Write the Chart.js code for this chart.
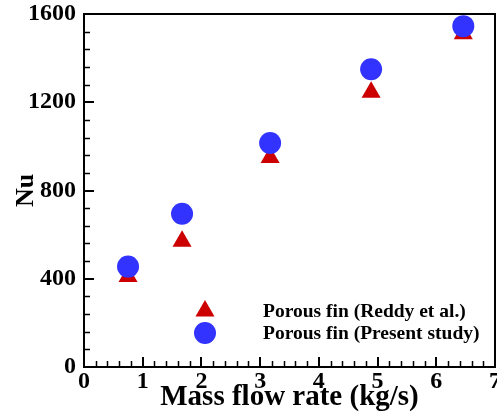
<!DOCTYPE html>
<html><head><meta charset="utf-8">
<script src="https://cdn.jsdelivr.net/npm/chart.js@4/dist/chart.umd.min.js"></script>
<style>html,body{margin:0;padding:0;background:#fff;}#wrap{width:497px;height:414px;}</style>
</head><body><div id="wrap"><canvas id="c" width="497" height="414"></canvas></div>
<script>
const massFlow = [0.75, 1.67, 3.17, 4.89, 6.46];
const nuReddy = [410, 570, 950, 1245, 1510];
const nuPresent = [455, 695, 1015, 1350, 1545];
const seriesLabels = ['Porous fin (Reddy et al.)', 'Porous fin (Present study)'];
const xTickValues = [0, 1, 2, 3, 4, 5, 6, 7];
const yTickValues = [0, 400, 800, 1200, 1600];
const xTitle = 'Mass flow rate (kg/s)';
const yTitle = 'Nu';

const SERIF = "'Liberation Serif', 'Times New Roman', serif";
const RED = '#cc0000', BLUE = '#3333ff';

const framePlugin = {
  id: 'frameTicks',
  afterDraw(chart) {
    const ctx = chart.ctx, a = chart.chartArea;
    const xs = chart.scales.x, ys = chart.scales.y;
    ctx.save();
    ctx.strokeStyle = '#000';
    ctx.lineWidth = 1.5;
    ctx.beginPath();
    for (let i = 0; i < xTickValues.length - 1; i++) {
      for (let k = 1; k < 5; k++) {
        const v = xTickValues[i] + (xTickValues[i + 1] - xTickValues[i]) * k / 5;
        const px = Math.round(xs.getPixelForValue(v)) + 0.5;
        ctx.moveTo(px, a.bottom); ctx.lineTo(px, a.bottom - 6);
      }
    }
    for (let i = 0; i < yTickValues.length - 1; i++) {
      for (let k = 1; k < 5; k++) {
        const v = yTickValues[i] + (yTickValues[i + 1] - yTickValues[i]) * k / 5;
        const py = Math.round(ys.getPixelForValue(v)) + 0.5;
        ctx.moveTo(a.left, py); ctx.lineTo(a.left + 6, py);
      }
    }
    ctx.stroke();
    ctx.lineWidth = 2;
    ctx.beginPath();
    xTickValues.forEach(v => {
      const px = Math.round(xs.getPixelForValue(v));
      ctx.moveTo(px, a.bottom); ctx.lineTo(px, a.bottom - 10);
    });
    yTickValues.forEach(v => {
      const py = Math.round(ys.getPixelForValue(v));
      ctx.moveTo(a.left, py); ctx.lineTo(a.left + 10, py);
    });
    ctx.stroke();
    ctx.lineWidth = 2;
    ctx.strokeRect(a.left, a.top, a.right - a.left, a.bottom - a.top);
    const rows = [311, 333];
    chart.data.datasets.forEach((ds, i) => {
      ctx.fillStyle = ds.backgroundColor;
      Chart.helpers.drawPoint(ctx, {pointStyle: ds.pointStyle, radius: ds.pointRadius, borderWidth: 0, rotation: 0}, 205, rows[i]);
      ctx.fillStyle = '#000';
      ctx.font = "bold 19.5px " + SERIF;
      ctx.textAlign = 'left';
      ctx.textBaseline = 'middle';
      ctx.fillText(ds.label, 263, rows[i] + 1);
    });
    ctx.restore();
  }
};

function fixX(s) {
  s.height = 47; s.paddingLeft = 0; s.paddingRight = 0;
}
function fixY(s) {
  s.width = 84; s.paddingTop = 0; s.paddingBottom = 0;
}

new Chart(document.getElementById('c'), {
  type: 'scatter',
  data: {
    datasets: [
      {
        label: seriesLabels[0],
        data: massFlow.map((x, i) => ({x, y: nuReddy[i]})),
        pointStyle: 'triangle', pointRadius: 11, pointBorderWidth: 0,
        backgroundColor: RED, borderColor: RED, order: 1
      },
      {
        label: seriesLabels[1],
        data: massFlow.map((x, i) => ({x, y: nuPresent[i]})),
        pointStyle: 'circle', pointRadius: 11, pointBorderWidth: 0,
        backgroundColor: BLUE, borderColor: BLUE, order: 0
      }
    ]
  },
  options: {
    responsive: false,
    animation: false,
    devicePixelRatio: 1,
    layout: {autoPadding: false, padding: {top: 14, right: 2, bottom: 0, left: 0}},
    plugins: {legend: {display: false}, tooltip: {enabled: false}},
    scales: {
      x: {
        type: 'linear', min: 0, max: 7,
        grid: {display: false, drawTicks: false},
        border: {display: false},
        ticks: {stepSize: 1, autoSkip: false, maxRotation: 0, padding: 0, color: '#000',
                callback: v => String(v),
                font: {family: SERIF, size: 24, weight: 'bold'}},
        title: {display: true, text: xTitle, color: '#000', padding: {top: 0, bottom: -1},
                font: {family: SERIF, size: 29, weight: 'bold'}},
        afterFit: fixX
      },
      y: {
        type: 'linear', min: 0, max: 1600,
        grid: {display: false, drawTicks: false},
        border: {display: false},
        ticks: {stepSize: 400, padding: 8, color: '#000',
                callback: v => String(v),
                font: {family: SERIF, size: 24, weight: 'bold'}},
        title: {display: true, text: yTitle, color: '#000', padding: {top: 11, bottom: 0},
                font: {family: SERIF, size: 26, weight: 'bold'}},
        afterFit: fixY
      }
    }
  },
  plugins: [framePlugin]
});
</script>
</body></html>
